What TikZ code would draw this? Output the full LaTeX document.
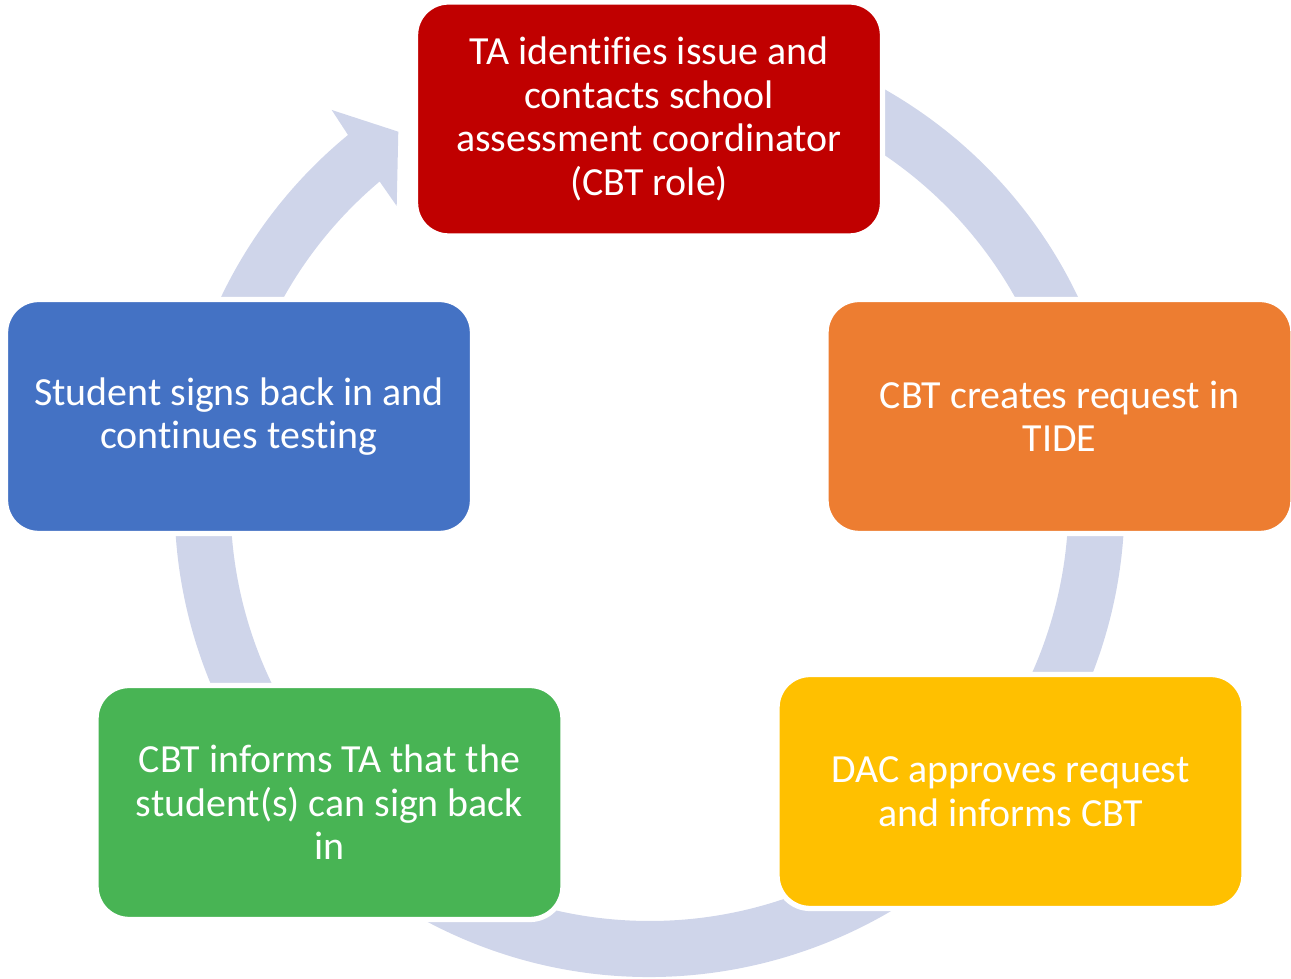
\documentclass[tikz,border=0pt]{standalone}
\usepackage{fontspec}
\setmainfont{Carlito}[Ligatures=NoCommon]
\definecolor{ringblue}{HTML}{CFD5EA}
\definecolor{tared}{HTML}{C00000}
\definecolor{cbtorange}{HTML}{ED7D31}
\definecolor{dacyellow}{HTML}{FFC000}
\definecolor{infogreen}{HTML}{48B454}
\definecolor{signblue}{HTML}{4472C4}
\begin{document}
\begin{tikzpicture}[x=0.02cm,y=0.02cm,
  stage/.style={rounded corners=0.66cm,draw=white,line width=3pt,text=white,
    minimum width=9.34cm,minimum height=4.68cm,align=center,
    font=\fontsize{22.7}{24.8}\selectfont}]
\pgfmathsetmacro{\Ro}{475}
\pgfmathsetmacro{\Ri}{419}
\useasboundingbox (0,0) rectangle (1291,979);
\coordinate (c) at (649.5,477);
% ring with the arrow head at the top left
\fill[ringblue] (c) ++(60.55:\Ro) arc[start angle=60.55,end angle=-230.6,radius=\Ro]
  --(331.7,869)--(398.3,847.3)--(396.7,773)
  --([shift={(c)}]130.1:\Ri) arc[start angle=-229.9,end angle=56.13,radius=\Ri]--cycle;
\node[stage,fill=tared] (issue) at (649,860) {TA identifies issue and\\contacts school\\assessment coordinator\\(CBT role)};
\node[stage,fill=cbtorange] (request) at (1059.5,562.5) {CBT creates request in\\TIDE};
\node[stage,fill=dacyellow] (approve) at (1010.5,187.5) {DAC approves request\\and informs CBT};
\node[stage,fill=infogreen] (inform) at (329.5,176.5) {CBT informs TA that the\\student(s) can sign back\\in};
\node[stage,fill=signblue] (signin) at (239,562.5) {Student signs back in and\\continues testing};
\end{tikzpicture}
\end{document}
